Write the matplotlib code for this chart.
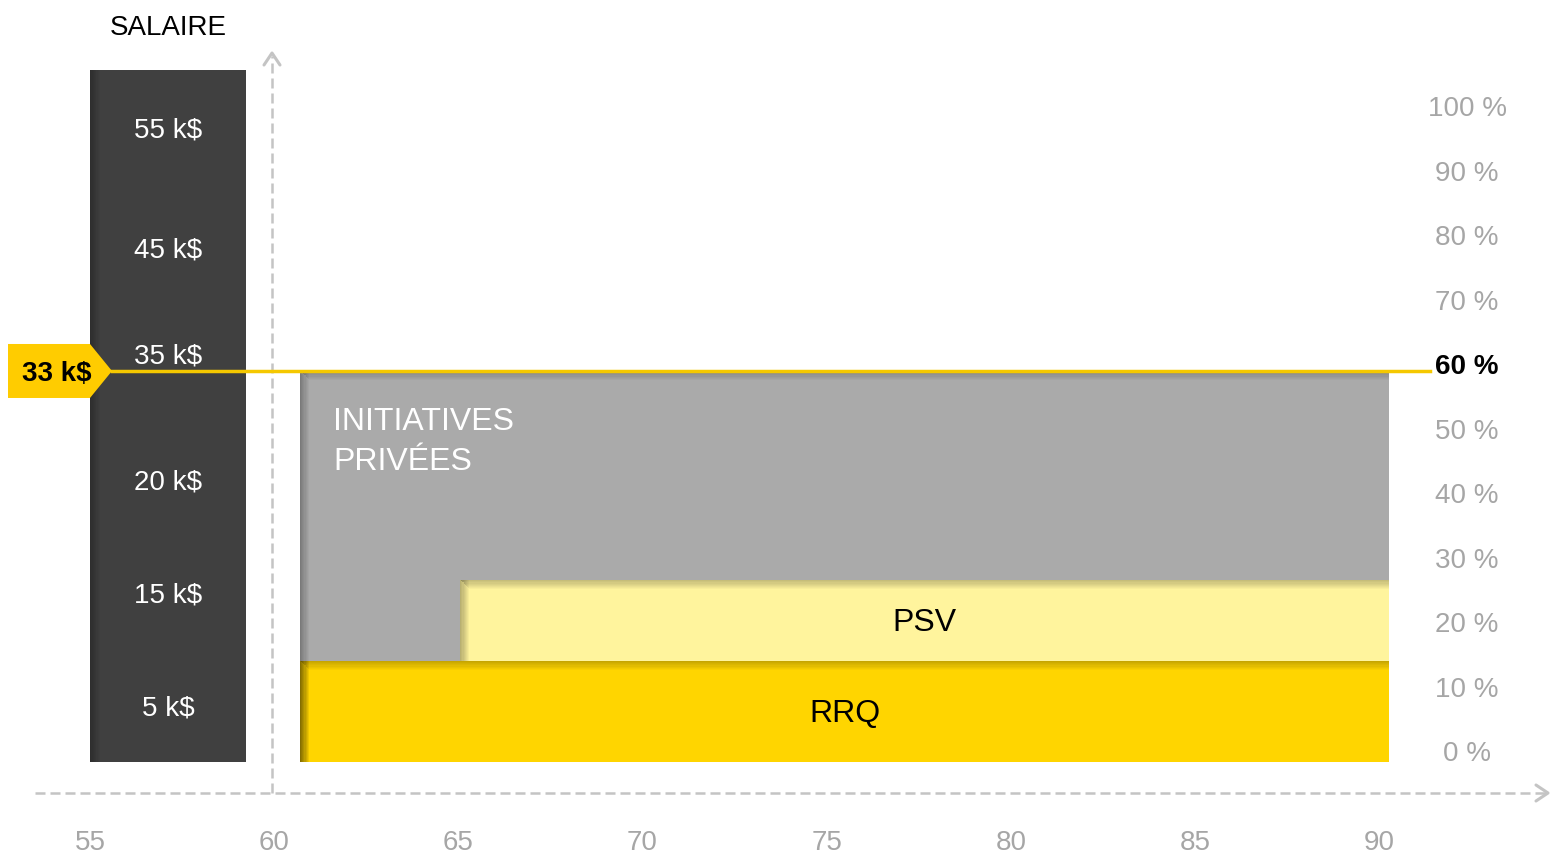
import matplotlib.pyplot as plt
from matplotlib.patches import Rectangle, Polygon

plt.rcParams['font.family'] = ['Liberation Sans', 'DejaVu Sans']

# données
ages = [55, 60, 65, 70, 75, 80, 85, 90]
pourcentages = [0, 10, 20, 30, 40, 50, 60, 70, 80, 90, 100]
salaire_labels = ['55 k$', '45 k$', '35 k$', '20 k$', '15 k$', '5 k$']
salaire_pos = [97.3, 78.9, 62.6, 43.3, 25.9, 8.6]
salaire_cible = '33 k$'
taux_cible = 60

salaire_barre = (55, 59.24, 0, 106.2)   # x0, x1, y0, y1
blocs = ['RRQ', 'PSV', 'INITIATIVES\nPRIVÉES']
blocs_x0 = [60.7, 65.05, 60.7]
blocs_x1 = [90.27, 90.27, 90.27]
blocs_y0 = [0, 15.5, 0]
blocs_y1 = [15.5, 27.9, 60]
couleurs = {'RRQ': '#FFD500', 'PSV': '#FFF49D', 'INITIATIVES\nPRIVÉES': '#AAAAAA'}

# échelle : pixels par unité
PX_X = 36.83
PX_Y = 6.517
X0 = 52.556   # âge au bord gauche
Y0 = 762      # pixel du 0 %
DT = 2.6 / PX_Y   # petit décalage vertical des textes


def px(x):
    return X0 + x / PX_X


def py(y):
    return (Y0 - y) / PX_Y


fig = plt.figure(figsize=(15.5, 8.55), dpi=100)
ax = fig.add_axes([0, 0, 1, 1])
ax.set_xlim(px(0), px(1550))
ax.set_ylim(py(855), py(0))
ax.axis('off')


def ombre(x0, x1, y0, y1, haut=True, n=8, w=9):
    # ombre intérieure à gauche (et en haut)
    for i in range(n):
        a = 0.28 * (1 - i / n)
        dx = w / PX_X / n
        ax.add_patch(Rectangle((x0 + i * dx, y0), dx, y1 - y0, color='black',
                               alpha=a, lw=0, zorder=3))
        if haut:
            dy = w / PX_Y / n
            ax.add_patch(Rectangle((x0 + (i + 1) * dx, y1 - (i + 1) * dy),
                                   x1 - x0 - (i + 1) * dx, dy, color='black',
                                   alpha=a * 0.8, lw=0, zorder=3))


# barre du salaire
x0, x1, y0, y1 = salaire_barre
ax.add_patch(Rectangle((x0, y0), x1 - x0, y1 - y0, color='#404040', lw=0, zorder=2))
ombre(x0, x1, y0, y1, haut=False, w=10)
ax.text((x0 + x1) / 2, py(25) - DT, 'SALAIRE', ha='center', va='center', fontsize=20)
for lab, p in zip(salaire_labels, salaire_pos):
    ax.text((x0 + x1) / 2, p - DT, lab, ha='center', va='center', fontsize=20,
            color='white', zorder=5)

# blocs de revenu (gris d'abord)
for k in [2, 1, 0]:
    nom = blocs[k]
    ax.add_patch(Rectangle((blocs_x0[k], blocs_y0[k]), blocs_x1[k] - blocs_x0[k],
                           blocs_y1[k] - blocs_y0[k], color=couleurs[nom], lw=0,
                           zorder=2 + (2 - k) * 0.1))
    ombre(blocs_x0[k], blocs_x1[k], blocs_y0[k], blocs_y1[k])

for k in [0, 1]:
    ax.text((blocs_x0[k] + blocs_x1[k]) / 2, (blocs_y0[k] + blocs_y1[k]) / 2 - DT,
            blocs[k], ha='center', va='center', fontsize=23, color='black', zorder=5)
ax.text(blocs_x0[2] + 0.9, py(442), blocs[2], ha='left', va='center', fontsize=23,
        color='white', linespacing=1.4, zorder=5)

# axes pointillés
gris = '#C4C4C4'
ax_y = py(793)
ax_x = px(272)
ax.plot([ax_x, ax_x], [ax_y, py(56)], color=gris, lw=1.8,
        linestyle=(0, (4, 2)), zorder=1)
ax.plot([px(35), px(1546)], [ax_y, ax_y], color=gris,
        lw=1.8, linestyle=(0, (4, 2)), zorder=1)
# flèches
ax.plot([px(264), px(272), px(280)], [py(65), py(53), py(65)], color=gris, lw=2.2,
        solid_capstyle='round')
ax.plot([px(1536), px(1548), px(1536)], [py(785), py(793), py(801)], color=gris,
        lw=2.2, solid_capstyle='round')

# graduations
for a in ages:
    ax.text(a, py(840) - DT, str(a), ha='center', va='center', fontsize=20,
            color='#A6A6A6')
for p in pourcentages:
    gras = p == taux_cible
    ax.text(px(1467), 1.23 + 0.989 * p, f'{p} %', ha='center', va='center',
            fontsize=20, color='black' if gras else '#A6A6A6',
            fontweight='bold' if gras else 'normal')

# ligne du salaire cible
jaune = '#FFCC00'
ax.plot([px(112), px(1430)], [taux_cible, taux_cible],
        color='#F5C800', lw=2.5, zorder=6)
h = 27 / PX_Y
ax.add_patch(Polygon([(px(8), taux_cible - h), (px(90), taux_cible - h),
                      (px(112), taux_cible), (px(90), taux_cible + h),
                      (px(8), taux_cible + h)], closed=True,
                     color=jaune, lw=0, zorder=6))
ax.text(px(57), taux_cible - DT, salaire_cible, ha='center', va='center',
        fontsize=20, fontweight='bold', zorder=7)

fig.savefig('out.png', dpi=100)
